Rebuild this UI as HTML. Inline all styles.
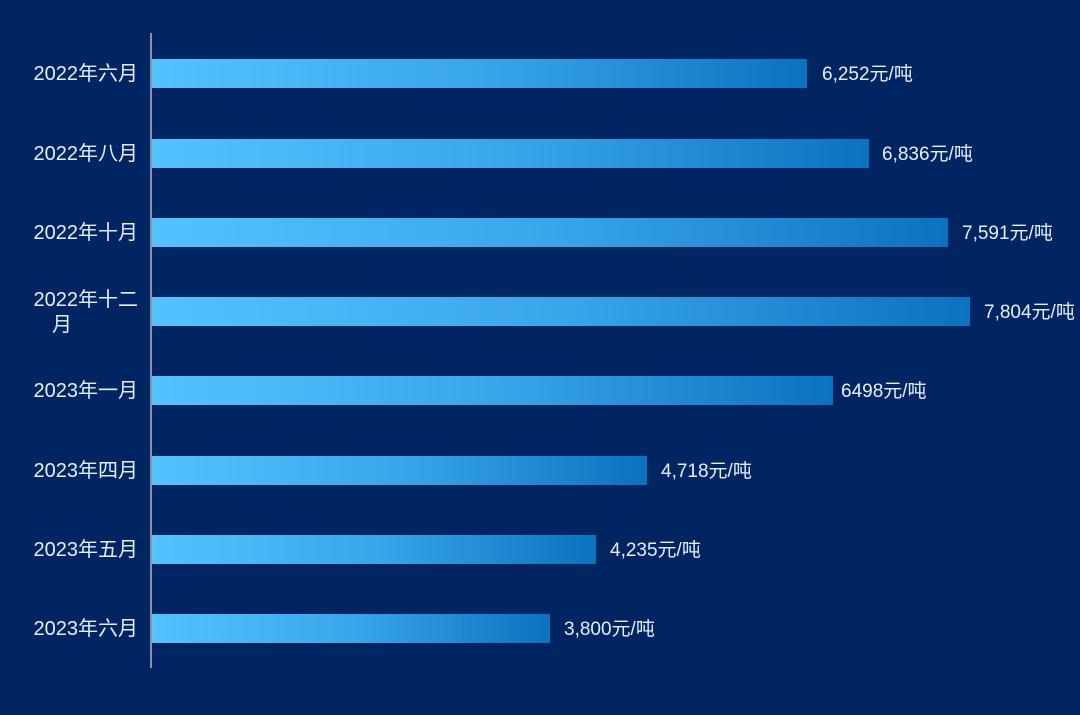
<!DOCTYPE html>
<html><head><meta charset="utf-8"><style>
body{margin:0;width:1080px;height:715px;background:#002562;overflow:hidden;position:relative;font-family:"Liberation Sans","Noto Sans CJK SC",sans-serif;color:#e8eef8;font-size:19px}
.ax{position:absolute;left:150px;top:33px;width:2px;height:635px;background:#8a93a6}
.bar{position:absolute;left:152px;height:29px;background:linear-gradient(90deg,#55c2ff 0%,#3aa6ea 50%,#0a72c0 100%)}
.v{position:absolute;line-height:20px;margin-top:2px}
.l{position:absolute;right:942px;text-align:right;line-height:22px;white-space:nowrap;font-size:20px;margin-top:1px}
</style></head><body>
<div class="ax"></div>
<div class="bar" style="top:59px;width:655px"></div><div class="v" style="left:822px;top:63px">6,252元/吨</div><div class="l" style="top:62px">2022年六月</div>
<div class="bar" style="top:139px;width:717px"></div><div class="v" style="left:882px;top:143px">6,836元/吨</div><div class="l" style="top:142px">2022年八月</div>
<div class="bar" style="top:218px;width:796px"></div><div class="v" style="left:962px;top:222px">7,591元/吨</div><div class="l" style="top:221px">2022年十月</div>
<div class="bar" style="top:297px;width:818px"></div><div class="v" style="left:984px;top:301px">7,804元/吨</div><div class="l" style="top:288px">2022年十二</div><div class="v" style="left:52px;top:312px;line-height:22px;font-size:20px">月</div>
<div class="bar" style="top:376px;width:681px"></div><div class="v" style="left:841px;top:380px">6498元/吨</div><div class="l" style="top:379px">2023年一月</div>
<div class="bar" style="top:456px;width:495px"></div><div class="v" style="left:661px;top:460px">4,718元/吨</div><div class="l" style="top:459px">2023年四月</div>
<div class="bar" style="top:535px;width:444px"></div><div class="v" style="left:610px;top:539px">4,235元/吨</div><div class="l" style="top:538px">2023年五月</div>
<div class="bar" style="top:614px;width:398px"></div><div class="v" style="left:564px;top:618px">3,800元/吨</div><div class="l" style="top:617px">2023年六月</div>
</body></html>
